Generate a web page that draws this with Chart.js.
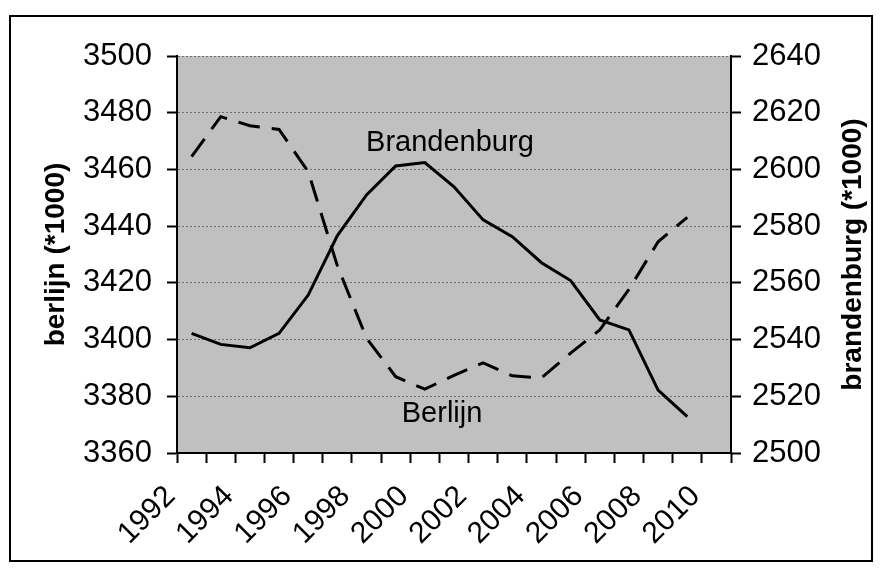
<!DOCTYPE html>
<html>
<head>
<meta charset="utf-8">
<script src="https://cdn.jsdelivr.net/npm/chart.js@4/dist/chart.umd.min.js"></script>
<style>
  html, body { margin: 0; padding: 0; background: #fff; }
  #wrap { width: 882px; height: 568px; position: relative; }
</style>
</head>
<body>
<div id="wrap"><canvas id="c" width="882" height="568"></canvas></div>
<script>
const years = ['1992','1993','1994','1995','1996','1997','1998','1999','2000','2001','2002','2003','2004','2005','2006','2007','2008','2009','2010'];
const berlijn = [3464.5, 3478.6, 3475.4, 3474.1, 3459.2, 3426.0, 3400.5, 3386.9, 3382.5, 3387.4, 3391.8, 3387.2, 3386.5, 3395.2, 3403.4, 3417.7, 3434.5, 3443.1];
const brandenburg = [2542.2, 2538.3, 2537.1, 2542.2, 2555.7, 2576.7, 2591.0, 2601.2, 2602.4, 2593.9, 2582.2, 2576.3, 2567.1, 2560.8, 2546.9, 2543.4, 2522.2, 2512.8];
const leftTitle = 'berlijn (*1000)';
const rightTitle = 'brandenburg (*1000)';
const seriesLabels = ['Berlijn', 'Brandenburg'];

const FONT = '"Liberation Sans", Arial, sans-serif';

const decor = {
  id: 'decor',
  beforeDraw(chart) {
    const {ctx, chartArea: a} = chart;
    ctx.save();
    ctx.fillStyle = '#C0C0C0';
    ctx.fillRect(a.left, a.top, a.right - a.left, a.bottom - a.top);
    ctx.restore();
  },
  afterDraw(chart) {
    const {ctx, chartArea: a, scales} = chart;
    ctx.save();
    ctx.strokeStyle = '#000';
    ctx.lineWidth = 2;
    ctx.strokeRect(10, 16, 862, 545);
    ctx.fillStyle = '#000';
    ctx.font = 'bold 28px ' + FONT;
    ctx.textAlign = 'center';
    ctx.textBaseline = 'middle';
    ctx.translate(scales.y2.right - 29, (a.top + a.bottom) / 2);
    ctx.rotate(-Math.PI / 2);
    ctx.fillText(rightTitle, 0, 0);
    ctx.restore();
    ctx.save();
    ctx.fillStyle = '#000';
    ctx.font = '29px ' + FONT;
    ctx.textAlign = 'center';
    ctx.textBaseline = 'alphabetic';
    ctx.fillText(seriesLabels[1], scales.x.getPixelForValue(8.86), scales.y.getPixelForValue(3466.6));
    ctx.fillText(seriesLabels[0], scales.x.getPixelForValue(8.59), scales.y.getPixelForValue(3371.0));
    ctx.restore();
  }
};

new Chart(document.getElementById('c'), {
  type: 'line',
  data: {
    labels: years,
    datasets: [
      {
        label: seriesLabels[0],
        data: berlijn,
        yAxisID: 'y',
        borderColor: '#000',
        borderWidth: 3,
        borderDash: [22, 12],
        borderCapStyle: 'butt',
        pointRadius: 0,
        tension: 0,
        fill: false
      },
      {
        label: seriesLabels[1],
        data: brandenburg,
        yAxisID: 'y2',
        borderColor: '#000',
        borderWidth: 3,
        pointRadius: 0,
        tension: 0,
        fill: false
      }
    ]
  },
  options: {
    responsive: false,
    animation: false,
    events: [],
    layout: { padding: { top: 56, left: 0, right: 0, bottom: 0 } },
    plugins: { legend: { display: false }, tooltip: { enabled: false }, title: { display: false } },
    scales: {
      x: {
        type: 'category',
        offset: true,
        grid: { offset: true, drawOnChartArea: false, drawTicks: true, tickLength: 10, tickColor: '#000', tickWidth: 2 },
        border: { display: true, color: '#000', width: 2 },
        ticks: {
          autoSkip: false,
          minRotation: 45,
          maxRotation: 45,
          labelOffset: -21,
          padding: 16,
          color: '#000',
          font: { family: FONT, size: 30 },
          callback: function(v, i) { return (i % 2 === 0) ? years[i] : ''; }
        },
        afterFit(s) { s.height = 115; }
      },
      y: {
        position: 'left',
        min: 3360,
        max: 3500,
        grid: { drawOnChartArea: true, color: '#707070', lineWidth: 1, tickLength: 10, tickColor: '#000', tickWidth: 2, tickBorderDash: [] },
        border: { display: true, color: '#000', width: 2, dash: [2, 2] },
        ticks: { stepSize: 20, padding: 15, color: '#000', font: { family: FONT, size: 31 }, callback: v => String(v) },
        title: { display: true, text: leftTitle, color: '#000', font: { family: FONT, size: 28, weight: 'bold' }, padding: { top: 39, bottom: 0 } },
        afterFit(s) { s.width = 177; }
      },
      y2: {
        position: 'right',
        min: 2500,
        max: 2640,
        grid: { drawOnChartArea: false, tickLength: 10, tickColor: '#000', tickWidth: 2 },
        border: { display: true, color: '#000', width: 2 },
        ticks: { stepSize: 20, padding: 11, color: '#000', font: { family: FONT, size: 31 }, callback: v => String(v) },
        afterFit(s) { s.width = 151; }
      }
    }
  },
  plugins: [decor]
});
</script>
</body>
</html>
